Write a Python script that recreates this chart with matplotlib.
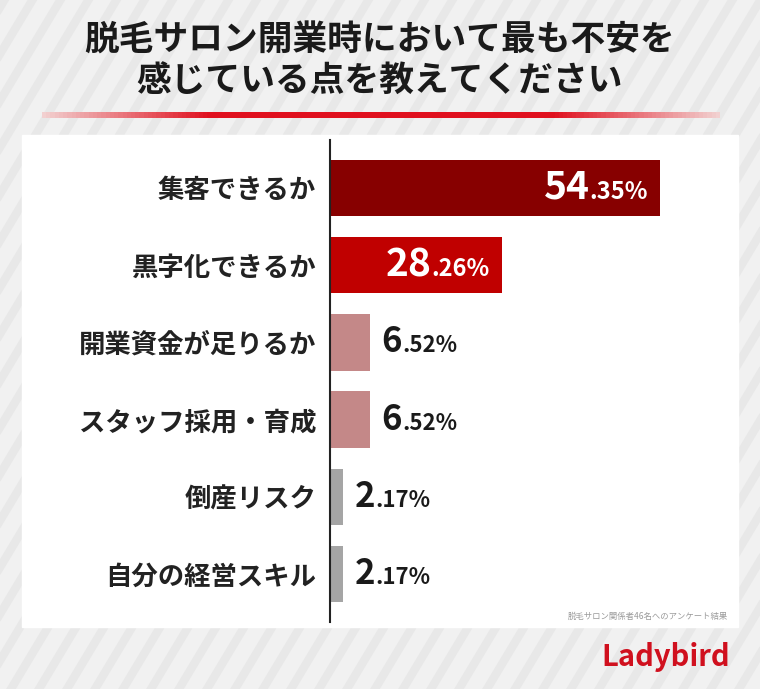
import numpy as np
import matplotlib.pyplot as plt
from matplotlib.colors import LinearSegmentedColormap
from matplotlib.transforms import offset_copy

plt.rcParams['font.family'] = ['Noto Sans CJK JP', 'DejaVu Sans']

categories = ['集客できるか', '黒字化できるか', '開業資金が足りるか', 'スタッフ採用・育成', '倒産リスク', '自分の経営スキル']
values = [54.35, 28.26, 6.52, 6.52, 2.17, 2.17]
colors = ['#870000', '#c00000', '#c48888', '#c48888', '#a5a5a5', '#a5a5a5']

W, H = 760, 689
fig = plt.figure(figsize=(W / 100, H / 100), dpi=100)
fig.patch.set_facecolor('#f1f1f1')

# striped background
bg = fig.add_axes([0, 0, 1, 1])
bg.set_xlim(0, W); bg.set_ylim(H, 0); bg.axis('off')
for x0 in range(-H, W, 28):
    bg.plot([x0, x0 + H * 0.6], [H, 0], color='#e8e8e8', lw=6, zorder=0)
bg.add_patch(plt.Rectangle((22, 135), 716, 492, color='white', zorder=1))

fig.text(0.5, 1 - 40 / H, '脱毛サロン開業時において最も不安を', ha='center', va='center',
         fontsize=25, fontweight='bold', color='#1a1a1a')
fig.text(0.5, 1 - 81 / H, '感じている点を教えてください', ha='center', va='center',
         fontsize=25, fontweight='bold', color='#1a1a1a')

# red gradient underline
grad = np.concatenate([np.linspace(0, 1, 40), np.ones(80), np.linspace(1, 0, 40)])
cmap = LinearSegmentedColormap.from_list('r', ['#f2d0d0', '#e0101e'])
bg.imshow(grad[None, :], cmap=cmap, extent=[42, 720, 118, 112], aspect='auto', zorder=2)

ax = fig.add_axes([330 / W, 1 - 622 / H, 408 / W, (622 - 140) / H])
ax.set_facecolor('none')
y = np.arange(len(categories))
ax.barh(y, values, height=0.73, color=colors)
ax.set_xlim(0, 54.35 * 408 / 330)
ax.set_ylim(len(categories) - 0.38, -0.62)
for s in ['top', 'right', 'bottom']:
    ax.spines[s].set_visible(False)
ax.spines['left'].set_color('#222222')
ax.spines['left'].set_linewidth(1.5)
ax.set_xticks([])
ax.set_yticks(y)
ax.set_yticklabels(categories, fontsize=19, fontweight='bold', color='#222222')
ax.tick_params(axis='y', length=0, pad=10)

fig.canvas.draw()
r = fig.canvas.get_renderer()
for i, v in enumerate(values):
    ip, dp = f'{v:.2f}'.split('.')
    dp = '.' + dp + '%'
    inside = v > 20
    col = 'white' if inside else '#1a1a1a'
    big, small = (28, 17) if inside else (25, 16)
    if inside:
        t2 = ax.text(v, i, dp, ha='right', va='baseline', fontsize=small, fontweight='bold', color=col,
                     transform=offset_copy(ax.transData, fig, x=-12, y=-11, units='dots'))
        wpx = t2.get_window_extent(r).width
        ax.text(v, i, ip, ha='right', va='baseline', fontsize=big, fontweight='bold', color=col,
                transform=offset_copy(ax.transData, fig, x=-12 - wpx, y=-11, units='dots'))
    else:
        t1 = ax.text(v, i, ip, ha='left', va='baseline', fontsize=big, fontweight='bold', color=col,
                     transform=offset_copy(ax.transData, fig, x=12, y=-10, units='dots'))
        wpx = t1.get_window_extent(r).width
        ax.text(v, i, dp, ha='left', va='baseline', fontsize=small, fontweight='bold', color=col,
                transform=offset_copy(ax.transData, fig, x=12 + wpx, y=-10, units='dots'))

fig.text(728 / W, 1 - 616 / H, '脱毛サロン関係者46名へのアンケート結果', ha='right', va='center',
         fontsize=6, color='#999999')
fig.text(730 / W, 1 - 657 / H, 'Ladybird', ha='right', va='center', fontsize=21,
         fontweight='bold', color='#d0101e')
fig.savefig('out.png', dpi=100, facecolor=fig.get_facecolor())
